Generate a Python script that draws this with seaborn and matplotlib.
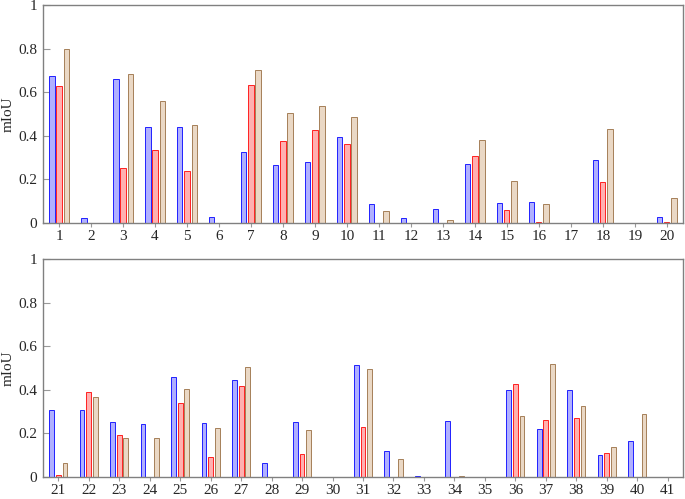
import numpy as np
import pandas as pd
import matplotlib
matplotlib.use("Agg")
import matplotlib.pyplot as plt
import seaborn as sns

sns.set_theme(style="white")
plt.rcParams['font.family'] = ['Liberation Serif', 'DejaVu Serif']

classes_top = [str(i) for i in range(1, 21)]
classes_bot = [str(i) for i in range(21, 42)]

blue_top = [0.674, 0.021, 0.659, 0.442, 0.440, 0.027, 0.327, 0.266, 0.280, 0.396,
            0.087, 0.023, 0.066, 0.273, 0.093, 0.098, 0.0, 0.289, 0.0, 0.029]
red_top = [0.628, 0.0, 0.252, 0.333, 0.237, 0.0, 0.633, 0.376, 0.429, 0.364,
           0.0, 0.0, 0.0, 0.309, 0.061, 0.005, 0.0, 0.189, 0.0, 0.006]
tan_top = [0.800, 0.0, 0.683, 0.558, 0.448, 0.0, 0.700, 0.503, 0.539, 0.488,
           0.055, 0.0, 0.014, 0.382, 0.194, 0.087, 0.0, 0.433, 0.0, 0.116]

blue_bot = [0.307, 0.306, 0.251, 0.243, 0.460, 0.246, 0.445, 0.063, 0.251, 0.0,
            0.514, 0.118, 0.003, 0.258, 0.0, 0.398, 0.220, 0.399, 0.101, 0.165, 0.0]
red_bot = [0.008, 0.391, 0.193, 0.0, 0.338, 0.092, 0.417, 0.0, 0.106, 0.0,
           0.229, 0.0, 0.0, 0.0, 0.0, 0.427, 0.261, 0.271, 0.112, 0.0, 0.0]
tan_bot = [0.064, 0.369, 0.179, 0.179, 0.405, 0.225, 0.503, 0.0, 0.217, 0.0,
           0.494, 0.081, 0.0, 0.005, 0.0, 0.280, 0.518, 0.326, 0.136, 0.291, 0.0]

series = ['A', 'B', 'C']
edge_colors = ['#2020ff', '#ff2020', '#a57f58']
fill_colors = ['#b0b0ff', '#ffb0b0', '#ead8c5']


def make_df(classes, a, b, c):
    rows = []
    for name, vals in zip(series, [a, b, c]):
        for cl, v in zip(classes, vals):
            rows.append({'class': cl, 'series': name, 'mIoU': v})
    return pd.DataFrame(rows)


fig = plt.figure(figsize=(6.85, 4.99), dpi=100)
ax1 = fig.add_axes([0.0628, 0.553, 0.9342, 0.437])
ax2 = fig.add_axes([0.0628, 0.044, 0.9342, 0.437])

for ax, df, classes in [(ax1, make_df(classes_top, blue_top, red_top, tan_top), classes_top),
                        (ax2, make_df(classes_bot, blue_bot, red_bot, tan_bot), classes_bot)]:
    sns.barplot(data=df, x='class', y='mIoU', hue='series', order=classes,
                hue_order=series, palette=fill_colors, width=0.66, gap=0.28,
                legend=False, ax=ax, linewidth=0.7, saturation=1)
    for cont, ec in zip(ax.containers, edge_colors):
        for patch in cont:
            patch.set_edgecolor(ec)
            patch.set_linewidth(0.7)
    ax.set_xlim(-0.5, len(classes) - 0.5)
    ax.set_ylim(0, 1)
    ax.set_yticks([0, 0.2, 0.4, 0.6, 0.8, 1.0])
    ax.set_yticklabels(['0', '0.2', '0.4', '0.6', '0.8', '1'])
    ax.set_xlabel('')
    ax.set_ylabel('mIoU', fontsize=11)
    ax.tick_params(axis='x', direction='out', length=3, width=0.8, color='#999999',
                   labelsize=11, pad=2, bottom=True)
    ax.tick_params(axis='y', direction='in', length=5, width=0.8, color='#999999',
                   labelsize=11, pad=4, left=True)
    for s in ax.spines.values():
        s.set_visible(True)
        s.set_color('#808080')
        s.set_linewidth(1.0)
    ax.yaxis.set_label_coords(-0.045, 0.5)

fig.savefig('out.png', dpi=100)
